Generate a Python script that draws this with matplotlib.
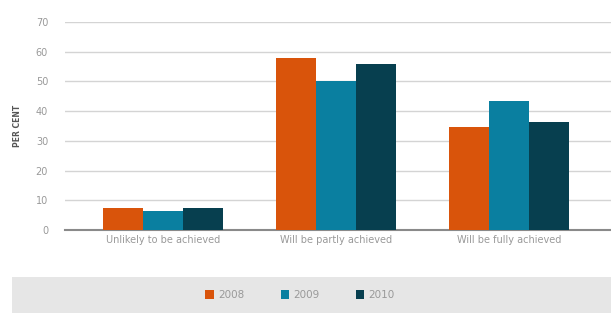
import matplotlib.pyplot as plt
from matplotlib.patches import Rectangle, Patch
import numpy as np

categories = ["Unlikely to be achieved", "Will be partly achieved", "Will be fully achieved"]
years = ["2008", "2009", "2010"]
v2008 = [7.5, 58, 34.5]
v2009 = [6.5, 50, 43.5]
v2010 = [7.5, 56, 36.5]
colors = ["#d9540b", "#0a7fa0", "#073f4f"]

fig = plt.figure(figsize=(6.11, 3.13), dpi=100)
ax = fig.add_axes([0.106, 0.265, 0.894, 0.665])

x = np.arange(len(categories))
w = 0.23
for i, (vals, c) in enumerate(zip([v2008, v2009, v2010], colors)):
    ax.bar(x + (i - 1) * w, vals, w, color=c, zorder=3)

ax.set_ylim(0, 70)
ax.set_xlim(-0.567, 2.59)
ax.set_yticks(range(0, 71, 10))
ax.set_xticks(x)
ax.set_xticklabels(categories)
ax.grid(axis="y", color="#d4d4d4", linewidth=1, zorder=0)
for s in ["top", "right", "left"]:
    ax.spines[s].set_visible(False)
ax.spines["bottom"].set_color("#8a8a8a")
ax.spines["bottom"].set_linewidth(1.5)
ax.tick_params(axis="both", length=0, colors="#999999", labelsize=7)
ax.tick_params(axis="y", pad=12)
ax.set_ylabel("PER CENT", fontsize=5.5, color="#555555", fontweight="bold", labelpad=10)

# grey legend band
fig.patches.append(Rectangle((0.02, 0), 0.98, 0.115, transform=fig.transFigure,
                             facecolor="#e6e6e6", edgecolor="none", zorder=0))
handles = [Patch(facecolor=c, edgecolor="none") for c in colors]
fig.legend(handles, years, loc="center", bbox_to_anchor=(0.491, 0.058), ncol=3,
           frameon=False, fontsize=7.5, labelcolor="#999999", handlelength=0.8,
           handleheight=1.0, columnspacing=3.5, handletextpad=0.4)

fig.savefig("out.png", dpi=100)
